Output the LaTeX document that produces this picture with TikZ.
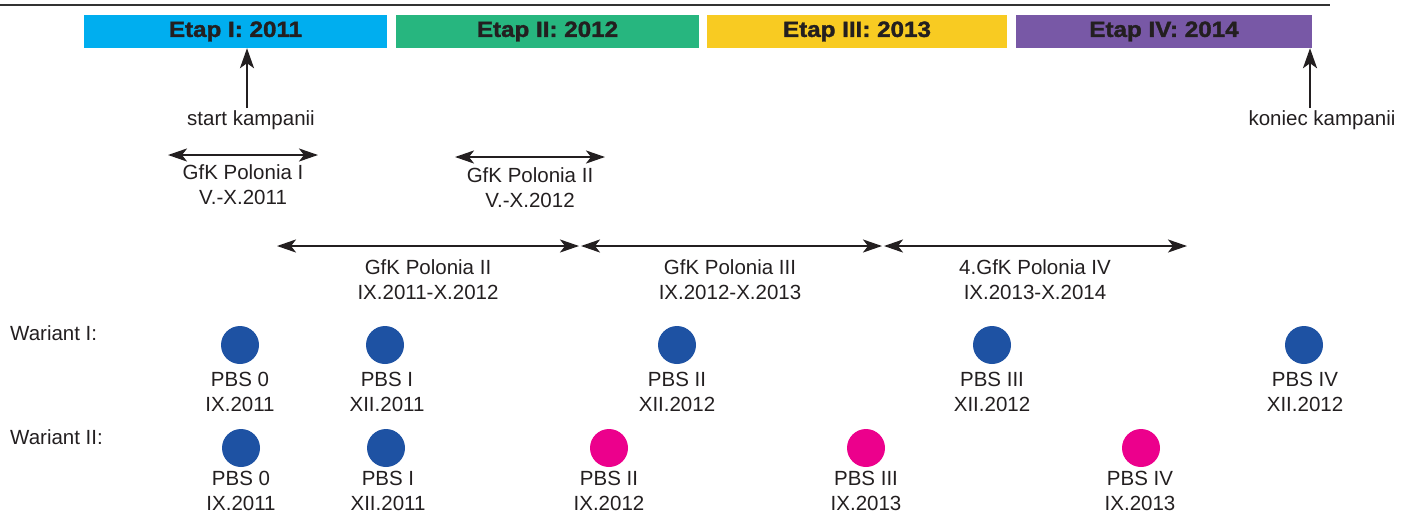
\documentclass[tikz,border=0pt]{standalone}
\usepackage{fontspec}
\setmainfont{Liberation Sans}
\newfontfamily\barfont[FakeStretch=1.1,FakeBold=1.6]{Liberation Sans}
\usetikzlibrary{arrows.meta}
\definecolor{txt}{HTML}{231F20}
\definecolor{ccyan}{HTML}{00AEEF}
\definecolor{cgreen}{HTML}{27B67F}
\definecolor{cyellow}{HTML}{F8CB22}
\definecolor{cpurple}{HTML}{7858A6}
\definecolor{cblue}{HTML}{1E52A3}
\definecolor{cmag}{HTML}{EC008C}
\tikzset{
  etapbar/.style={fill=#1, draw=none, minimum height=33pt, inner sep=0pt, text=txt,
    font=\barfont\bfseries\fontsize{22}{22}\selectfont},
  lbl/.style={text=txt, align=center, inner sep=0pt, font=\fontsize{20.5}{25}\selectfont},
  dot/.style={circle, fill=#1, draw=none, minimum size=38pt, inner sep=0pt},
  uparrow/.style={draw=txt, line width=2.4pt, -{Stealth[length=20pt,width=14pt,inset=5pt]}},
  twoway/.style={draw=txt, line width=2.4pt, {Stealth[length=19pt,width=13pt,inset=5pt]}-{Stealth[length=19pt,width=13pt,inset=5pt]}}
}
\begin{document}
\begin{tikzpicture}[x=1pt,y=-1pt]
\useasboundingbox (0,0) rectangle (1415,515);
% top rule
\coordinate (ruleL) at (0,5);
\coordinate (ruleR) at (1330,5);
\draw[line width=2pt, draw=black!80] (ruleL) -- (ruleR);
% stage bars
\node[etapbar=ccyan, minimum width=303pt] (e1) at (235.5,31.5) {Etap I: 2011};
\node[etapbar=cgreen, minimum width=303pt] (e2) at (547.5,31.5) {Etap II: 2012};
\node[etapbar=cyellow, minimum width=300pt] (e3) at (857,31.5) {Etap III: 2013};
\node[etapbar=cpurple, minimum width=296pt] (e4) at (1164,31.5) {Etap IV: 2014};
% campaign start / end
\node[lbl, anchor=center] (start) at (251,120) {start kampanii};
\node[lbl, anchor=center] (koniec) at (1322,120) {koniec kampanii};
\coordinate (sTail) at (247,108);
\coordinate (kTail) at (1310,108);
\draw[uparrow] (sTail) -- (sTail |- e1.south);
\draw[uparrow] (kTail) -- (kTail |- e4.south);
% GfK short surveys
\coordinate (g1L) at (168,155);
\coordinate (g1R) at (318,155);
\draw[twoway] (g1L) -- (g1R);
\node[lbl] (g1) at (243,184.5) {GfK Polonia I\\V.-X.2011};
\coordinate (g2L) at (455,157);
\coordinate (g2R) at (605,157);
\draw[twoway] (g2L) -- (g2R);
\node[lbl] (g2) at (530,188) {GfK Polonia II\\V.-X.2012};
% GfK long surveys
\coordinate (h1L) at (277,246);
\coordinate (h1R) at (579,246);
\coordinate (h2L) at (581,246);
\coordinate (h2R) at (882,246);
\coordinate (h3L) at (884,246);
\coordinate (h3R) at (1187,246);
\draw[twoway] (h1L) -- (h1R);
\draw[twoway] (h2L) -- (h2R);
\draw[twoway] (h3L) -- (h3R);
\node[lbl] (h1) at (428,280) {GfK Polonia II\\IX.2011-X.2012};
\node[lbl] (h2) at (730,280) {GfK Polonia III\\IX.2012-X.2013};
\node[lbl] (h3) at (1035,280) {4.GfK Polonia IV\\IX.2013-X.2014};
% variants
\node[lbl, anchor=west] (w1) at (10,333) {Wariant I:};
\node[lbl, anchor=west] (w2) at (10,437) {Wariant II:};
% Variant I dots
\node[dot=cblue] (a0) at (240,345) {};
\node[dot=cblue] (a1) at (385,345) {};
\node[dot=cblue] (a2) at (677,345) {};
\node[dot=cblue] (a3) at (992,345) {};
\node[dot=cblue] (a4) at (1304,345) {};
\node[lbl] (la0) at (240,392) {PBS 0\\IX.2011};
\node[lbl] (la1) at (387,392) {PBS I\\XII.2011};
\node[lbl] (la2) at (677,392) {PBS II\\XII.2012};
\node[lbl] (la3) at (992,392) {PBS III\\XII.2012};
\node[lbl] (la4) at (1305,392) {PBS IV\\XII.2012};
% Variant II dots
\node[dot=cblue] (b0) at (241,448) {};
\node[dot=cblue] (b1) at (386,448) {};
\node[dot=cmag] (b2) at (609,448) {};
\node[dot=cmag] (b3) at (866,448) {};
\node[dot=cmag] (b4) at (1141,448) {};
\node[lbl] (lb0) at (241,491) {PBS 0\\IX.2011};
\node[lbl] (lb1) at (388,491) {PBS I\\XII.2011};
\node[lbl] (lb2) at (609,491) {PBS II\\IX.2012};
\node[lbl] (lb3) at (866,491) {PBS III\\IX.2013};
\node[lbl] (lb4) at (1140,491) {PBS IV\\IX.2013};
\end{tikzpicture}
\end{document}
